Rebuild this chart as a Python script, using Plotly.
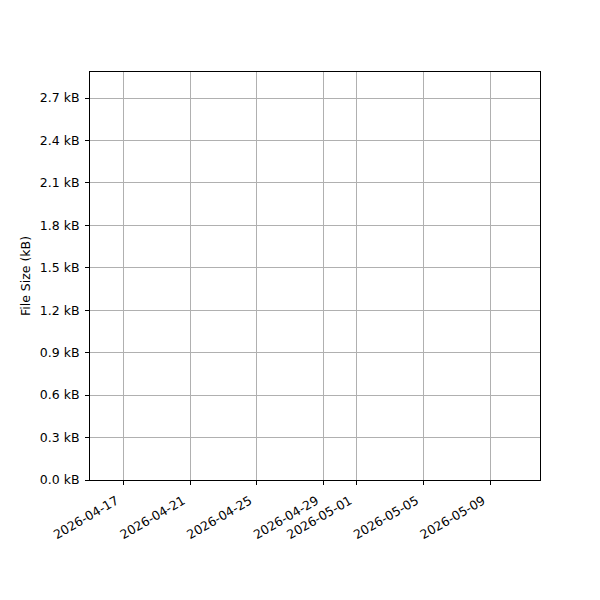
import plotly.graph_objects as go

# no records in the log, so the chart is empty
dates = []
sizes_kb = []

x_start = "2026-04-15"
x_end = "2026-05-12"
date_ticks = ["2026-04-17", "2026-04-21", "2026-04-25", "2026-04-29",
              "2026-05-01", "2026-05-05", "2026-05-09"]
size_ticks = [0.0, 0.3, 0.6, 0.9, 1.2, 1.5, 1.8, 2.1, 2.4, 2.7]
y_max = 2.884

fig = go.Figure(go.Scatter(x=dates, y=sizes_kb, mode="lines+markers",
                           line=dict(color="#1f77b4"), showlegend=False))

axis_style = dict(
    showline=True, linecolor="black", linewidth=1, mirror=True,
    ticks="outside", ticklen=4, tickwidth=1, tickcolor="black",
    showgrid=True, gridcolor="#b0b0b0", gridwidth=1,
    zeroline=False, tickfont=dict(size=12.5, color="black"),
)

# trailing nbsp pushes the rotated labels left so their right end sits at the tick
fig.update_xaxes(type="date", range=[x_start, x_end],
                 tickvals=date_ticks, ticktext=[d + "\u00a0\u00a0" for d in date_ticks],
                 tickangle=-30, ticklabelstandoff=0, **axis_style)
fig.update_yaxes(range=[0, y_max], tickvals=size_ticks,
                 ticktext=[f"{v:.1f} kB" for v in size_ticks],
                 ticklabelstandoff=3,
                 title=dict(text="File Size (kB)", font=dict(size=12.5, color="black"), standoff=6),
                 **axis_style)

# page body adds an 8px offset, so margins are shifted to compensate
fig.update_layout(
    width=600, height=600,
    margin=dict(l=82, r=68, t=64, b=128, autoexpand=False),
    plot_bgcolor="white", paper_bgcolor="white",
    font=dict(family="DejaVu Sans", color="black"),
)

fig.write_html("out.html")
